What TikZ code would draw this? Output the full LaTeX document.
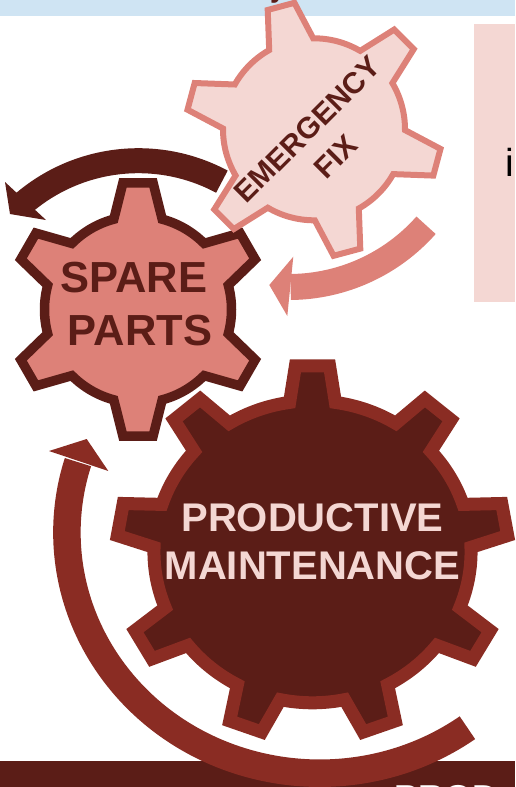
\documentclass[tikz,border=0pt]{standalone}
\usepackage{fontspec}
\setmainfont{Liberation Sans}
\definecolor{darkred}{HTML}{5B1D17}
\definecolor{midred}{HTML}{8A2C23}
\definecolor{salmon}{HTML}{DD8178}
\definecolor{blush}{HTML}{F4D7D3}
\definecolor{skyband}{HTML}{CFE4F3}
\newcommand{\gearshape}[7]{%
\pgfmathsetmacro{\gearstep}{360/#3}
\draw[#1] (#2-#7:#5) \foreach \i in {1,...,#3} {
-- ({#2+(\i-1)*\gearstep-#6}:#4) -- ({#2+(\i-1)*\gearstep+#6}:#4) -- ({#2+(\i-1)*\gearstep+#7}:#5)
arc[start angle={#2+(\i-1)*\gearstep+#7},delta angle={\gearstep-2*#7},radius=#5]
} -- cycle;}
\tikzset{
gearprod/.style={draw=midred,fill=darkred,line width=13pt},
gearspare/.style={draw=darkred,fill=salmon,line width=9.5pt},
gearemerg/.style={draw=salmon,fill=blush,line width=6pt},
gearlabel/.style={font=\bfseries\fontsize{#1}{#1}\selectfont,align=center,inner sep=0pt},
bandarrow/.style={line width=#1}
}
\begin{document}
\begin{tikzpicture}[x=1pt,y=-1pt]
\useasboundingbox (0,0) rectangle (515,787);
\clip (0,0) rectangle (515,787);
\coordinate (prodc) at (312.5,551.8);
\coordinate (sparec) at (138,309.5);
\coordinate (emergc) at (314,129.3);
\coordinate (sparebend) at (138.4,337.4);
\coordinate (emergbend) at (289,104);
\coordinate (prodbend) at (319.6,532.5);
\fill[skyband] (0,0) rectangle (515,16);
\fill[blush] (474,24) rectangle (515,302);
\fill[darkred] (0,761) rectangle (515,787);
\node[anchor=base,inner sep=0pt,text=darkred,font=\bfseries\fontsize{28}{28}\selectfont] (topword) at (278,-2) {y};
\node[anchor=base west,inner sep=0pt,font=\fontsize{39}{39}\selectfont] (panelword) at (505,176) {i};
\node[anchor=base west,inner sep=0pt,text=white,font=\bfseries\fontsize{36}{36}\selectfont] (bandword) at (394,810) {PROD};
\draw[midred,bandarrow=27.5pt] ([shift={(54.2:252.7 and 240.7)}]prodbend) arc[start angle=54.2,end angle=197,x radius=252.7,y radius=240.7];
\fill[midred] (49,451) -- (86.7,439) -- (108.3,471) -- cycle;
\begin{scope}[shift={(prodc)},xscale=1.05]
\gearshape{gearprod}{-90}{9}{186.6}{151}{5}{8.3}
\end{scope}
\node[gearlabel=40,text=blush] (prodtop) at (312.5,518) {PRODUCTIVE};
\node[gearlabel=40,text=blush] (prodbot) at (312.5,565.5) {MAINTENANCE};
\begin{scope}[shift={(sparec)}]
\gearshape{gearspare}{-90}{6}{127.5}{93.5}{6.8}{15}
\end{scope}
\node[gearlabel=43.5,text=darkred] (sparetop) at (133.8,277.5) {SPARE};
\node[gearlabel=43.5,text=darkred] (sparebot) at (140,331) {PARTS};
\draw[darkred,bandarrow=25pt] ([shift={(-61.8:176.7)}]sparebend) arc[start angle=-61.8,end angle=-131,radius=176.7];
\fill[darkred] (5,182) -- (10,214) -- (46,220) -- cycle;
\draw[salmon,bandarrow=26pt] ([shift={(41.5:183)}]emergbend) arc[start angle=41.5,end angle=89.5,radius=183];
\fill[salmon] (293.3,256.7) -- (269.3,285) -- (287.3,316) -- cycle;
\begin{scope}[shift={(emergc)}]
\gearshape{gearemerg}{15}{6}{128}{91}{6.2}{14.5}
\end{scope}
\node[gearlabel=29.8,text=darkred,rotate=45] (emergtop) at (307.5,129.5) {EMERGENCY};
\node[gearlabel=29.8,text=darkred,rotate=45] (emergbot) at (336,157) {FIX};
\end{tikzpicture}
\end{document}
